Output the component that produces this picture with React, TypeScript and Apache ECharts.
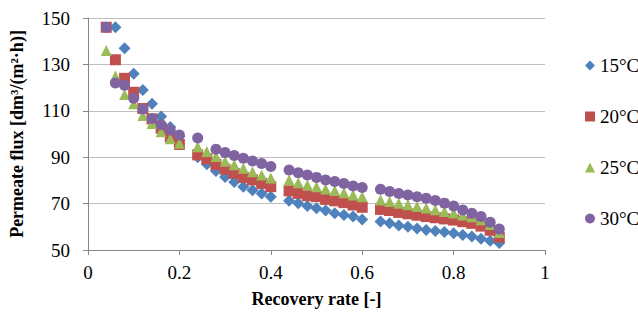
import React, { useEffect, useRef } from "react";
import * as echarts from "echarts";

const seriesNames = ["15°C", "20°C", "25°C", "30°C"];

const x15 = [0.06, 0.08, 0.1, 0.12, 0.14, 0.16, 0.18, 0.2,
  0.24, 0.26, 0.28, 0.3, 0.32, 0.34, 0.36, 0.38, 0.4,
  0.44, 0.46, 0.48, 0.5, 0.52, 0.54, 0.56, 0.58, 0.6,
  0.64, 0.66, 0.68, 0.7, 0.72, 0.74, 0.76, 0.78, 0.8, 0.82, 0.84, 0.86, 0.88, 0.9];
const y15 = [146, 137, 126, 119, 113, 107.5, 103, 99,
  90, 87, 84, 81.5, 79.3, 77.3, 75.8, 74.3, 73,
  71.2, 70.1, 69, 68, 67, 65.8, 65.1, 64.4, 63.2,
  62.3, 61.5, 60.6, 60, 59.3, 58.6, 58.2, 57.8, 57.2, 56.5, 55.8, 54.8, 54, 53];

const x20 = [0.04, 0.06, 0.08, 0.1, 0.12, 0.14, 0.16, 0.18, 0.2,
  0.24, 0.26, 0.28, 0.3, 0.32, 0.34, 0.36, 0.38, 0.4,
  0.44, 0.46, 0.48, 0.5, 0.52, 0.54, 0.56, 0.58, 0.6,
  0.64, 0.66, 0.68, 0.7, 0.72, 0.74, 0.76, 0.78, 0.8, 0.82, 0.84, 0.86, 0.88, 0.9];
const y20 = [146, 132, 124, 118, 111, 106.5, 102.5, 98.8, 95.5,
  91, 89.3, 86.8, 84.8, 83, 81.3, 80.2, 78.7, 77.3,
  75.5, 74.4, 73.4, 73, 71.8, 71.2, 70.4, 69.4, 68.4,
  67.5, 67, 66.2, 65.6, 65, 64.4, 63.9, 63.4, 62.9, 62.2, 61.5, 60.3, 58.5, 55.5];

const x25 = [0.04, 0.06, 0.08, 0.1, 0.12, 0.14, 0.16, 0.18, 0.2,
  0.24, 0.26, 0.28, 0.3, 0.32, 0.34, 0.36, 0.38, 0.4,
  0.44, 0.46, 0.48, 0.5, 0.52, 0.54, 0.56, 0.58, 0.6,
  0.64, 0.66, 0.68, 0.7, 0.72, 0.74, 0.76, 0.78, 0.8, 0.82, 0.84, 0.86, 0.88, 0.9];
const y25 = [136, 125, 117, 113, 108, 104.5, 101, 98, 96,
  94.5, 92.5, 90.3, 88.3, 86.7, 85.2, 83.7, 82.3, 81,
  80.2, 79, 78, 77.3, 76.3, 75.6, 74.7, 73.7, 73,
  71.5, 70.9, 70.2, 69.5, 68.8, 68.1, 67.3, 66.6, 65.9, 65.1, 64.3, 63, 61, 57.5];

const x30 = [0.04, 0.06, 0.08, 0.1, 0.12, 0.14, 0.16, 0.18, 0.2,
  0.24, 0.28, 0.3, 0.32, 0.34, 0.36, 0.38, 0.4,
  0.44, 0.46, 0.48, 0.5, 0.52, 0.54, 0.56, 0.58, 0.6,
  0.64, 0.66, 0.68, 0.7, 0.72, 0.74, 0.76, 0.78, 0.8, 0.82, 0.84, 0.86, 0.88, 0.9];
const y30 = [146, 122, 121, 115.4, 110.8, 106.7, 104, 101.7, 99.6,
  98.3, 93.4, 92, 90.7, 89.5, 88.4, 87.3, 86,
  84.5, 83.3, 82.3, 81.3, 80.2, 79.5, 78.7, 77.6, 76.9,
  76.2, 75.2, 74.4, 73.7, 73, 72.3, 71.3, 70.2, 69, 67.2, 65.8, 64.4, 62, 59];

const xs = [x15, x20, x25, x30];
const ys = [y15, y20, y25, y30];
const colors = ["#4F81BD", "#C0504D", "#9BBB59", "#8064A2"];
const symbols = ["diamond", "rect", "triangle", "circle"];
const sizes = [12, 11, 11, 11];

const FONT = "Liberation Serif";

export default function App() {
  const ref = useRef<HTMLDivElement>(null);
  useEffect(() => {
    if (!ref.current) return;
    const chart = echarts.init(ref.current, undefined, { renderer: "svg" });
    chart.setOption({
      animation: false,
      backgroundColor: "#ffffff",
      textStyle: { fontFamily: FONT },
      grid: { left: 85, right: 93, top: 18, bottom: 70, containLabel: false },
      legend: {
        orient: "vertical",
        left: 580,
        top: 51,
        itemWidth: 10,
        itemHeight: 10,
        itemGap: 32,
        textStyle: { fontFamily: FONT, fontSize: 19, color: "#000" },
        data: seriesNames.map((n, i) => ({ name: n, icon: symbols[i] })),
      },
      xAxis: {
        type: "value",
        min: 0,
        max: 1,
        interval: 0.2,
        name: "Recovery rate [-]",
        nameLocation: "middle",
        nameGap: 40,
        nameTextStyle: { fontFamily: FONT, fontSize: 18, fontWeight: "bold", color: "#000" },
        axisLine: { show: true, lineStyle: { color: "#868686" } },
        axisTick: { show: true, inside: false, length: 5, lineStyle: { color: "#868686" } },
        axisLabel: { fontFamily: FONT, fontSize: 19, color: "#000", margin: 13 },
        splitLine: { show: false },
      },
      yAxis: {
        type: "value",
        min: 50,
        max: 150,
        interval: 20,
        name: "Permeate flux [dm³/(m²·h)]",
        nameLocation: "middle",
        nameGap: 62,
        nameTextStyle: { fontFamily: FONT, fontSize: 18, fontWeight: "bold", color: "#000" },
        axisLine: { show: true, lineStyle: { color: "#868686" } },
        axisTick: { show: true, inside: false, length: 5, lineStyle: { color: "#868686" } },
        axisLabel: { fontFamily: FONT, fontSize: 19, color: "#000", margin: 18 },
        splitLine: { show: true, lineStyle: { color: "#BFBFBF" } },
      },
      series: seriesNames.map((n, i) => ({
        name: n,
        type: "scatter",
        symbol: symbols[i],
        symbolSize: sizes[i],
        itemStyle: { color: colors[i], opacity: 1 },
        data: xs[i].map((x, j) => [x, ys[i][j]]),
      })),
    });
    return () => chart.dispose();
  }, []);
  return (
    <div
      ref={ref}
      style={{ position: "fixed", left: 0, top: 0, width: 638, height: 320 }}
    />
  );
}
